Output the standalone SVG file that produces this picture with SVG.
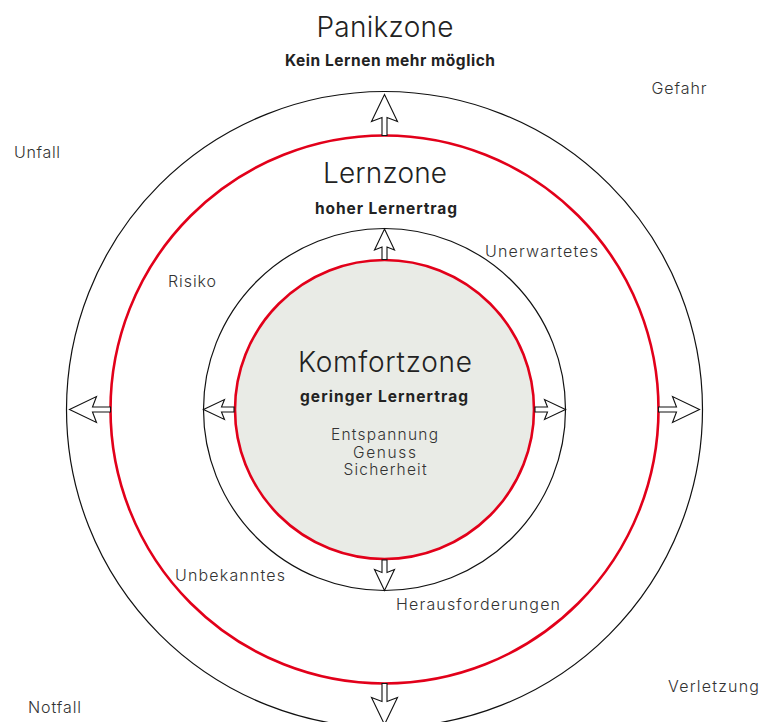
<svg xmlns="http://www.w3.org/2000/svg" width="765" height="722" viewBox="0 0 765 722">
<style>
.bk{fill:none;stroke:#111;stroke-width:1.2}
.rd{fill:none;stroke:#e2001a;stroke-width:2.6}
.ar{fill:#fff;stroke:#111;stroke-width:1.1;stroke-linejoin:miter}
.t{font-family:Inter,"Open Sans",sans-serif;fill:#222}
.big{font-size:28px;font-weight:300;text-anchor:middle}
.sub{font-size:15.5px;font-weight:700;text-anchor:middle}
.lab{font-size:16px;font-weight:300;fill:#333}
.ctr{font-size:15.5px;font-weight:300;text-anchor:middle;fill:#333}
</style>
<defs>
<path id="ao" d="M0,0 L13,27 L2.5,23 L2.5,41 L-2.5,41 L-2.5,23 L-13,27 Z"/>
<path id="ai" d="M0,0 L10,21 L2.5,18 L2.5,30.5 L-2.5,30.5 L-2.5,18 L-10,21 Z"/>
</defs>
<rect width="765" height="722" fill="#fff"/>
<g id="panikzone">
<circle class="bk" cx="384.5" cy="409.5" r="318"/>
<text class="t big" x="385" y="37" textLength="137" lengthAdjust="spacing">Panikzone</text>
<text class="t sub" x="390" y="66" textLength="210" lengthAdjust="spacing">Kein Lernen mehr möglich</text>
</g>
<g id="lernzone">
<circle class="rd" cx="384.5" cy="409.5" r="274"/>
<circle class="bk" cx="384.5" cy="409.5" r="181"/>
<text class="t big" x="385" y="183" textLength="124" lengthAdjust="spacing">Lernzone</text>
<text class="t sub" x="386" y="214" textLength="142" lengthAdjust="spacing">hoher Lernertrag</text>
</g>
<g id="komfortzone">
<circle cx="384.5" cy="409.5" r="149.5" fill="#e9ebe6" stroke="#e2001a" stroke-width="2.6"/>
<text class="t big" x="385" y="371.5" textLength="174" lengthAdjust="spacing">Komfortzone</text>
<text class="t sub" x="384" y="401.5" textLength="168" lengthAdjust="spacing">geringer Lernertrag</text>
<text class="t ctr" x="384.5" y="440" textLength="107" lengthAdjust="spacing">Entspannung</text>
<text class="t ctr" x="384.5" y="457.5" textLength="63" lengthAdjust="spacing">Genuss</text>
<text class="t ctr" x="385" y="475" textLength="83" lengthAdjust="spacing">Sicherheit</text>
</g>
<g id="connectors">
<use href="#ao" class="ar" transform="translate(384.5,94.5)"/>
<use href="#ao" class="ar" transform="translate(699.5,409.5) rotate(90)"/>
<use href="#ao" class="ar" transform="translate(384.5,724.5) rotate(180)"/>
<use href="#ao" class="ar" transform="translate(69.5,409.5) rotate(-90)"/>
<use href="#ai" class="ar" transform="translate(384.5,229)"/>
<use href="#ai" class="ar" transform="translate(565.5,409.5) rotate(90)"/>
<use href="#ai" class="ar" transform="translate(384.5,590.5) rotate(180)"/>
<use href="#ai" class="ar" transform="translate(203.5,409.5) rotate(-90)"/>
</g>
<g id="labels">
<text class="t lab" x="651.5" y="94" textLength="55" lengthAdjust="spacing">Gefahr</text>
<text class="t lab" x="14" y="158" textLength="46" lengthAdjust="spacing">Unfall</text>
<text class="t lab" x="168" y="287" textLength="48" lengthAdjust="spacing">Risiko</text>
<text class="t lab" x="485" y="257" textLength="113" lengthAdjust="spacing">Unerwartetes</text>
<text class="t lab" x="175" y="581" textLength="110" lengthAdjust="spacing">Unbekanntes</text>
<text class="t lab" x="396" y="610" textLength="164" lengthAdjust="spacing">Herausforderungen</text>
<text class="t lab" x="28" y="713" textLength="53" lengthAdjust="spacing">Notfall</text>
<text class="t lab" x="668" y="692" textLength="91" lengthAdjust="spacing">Verletzung</text>
</g>
</svg>
